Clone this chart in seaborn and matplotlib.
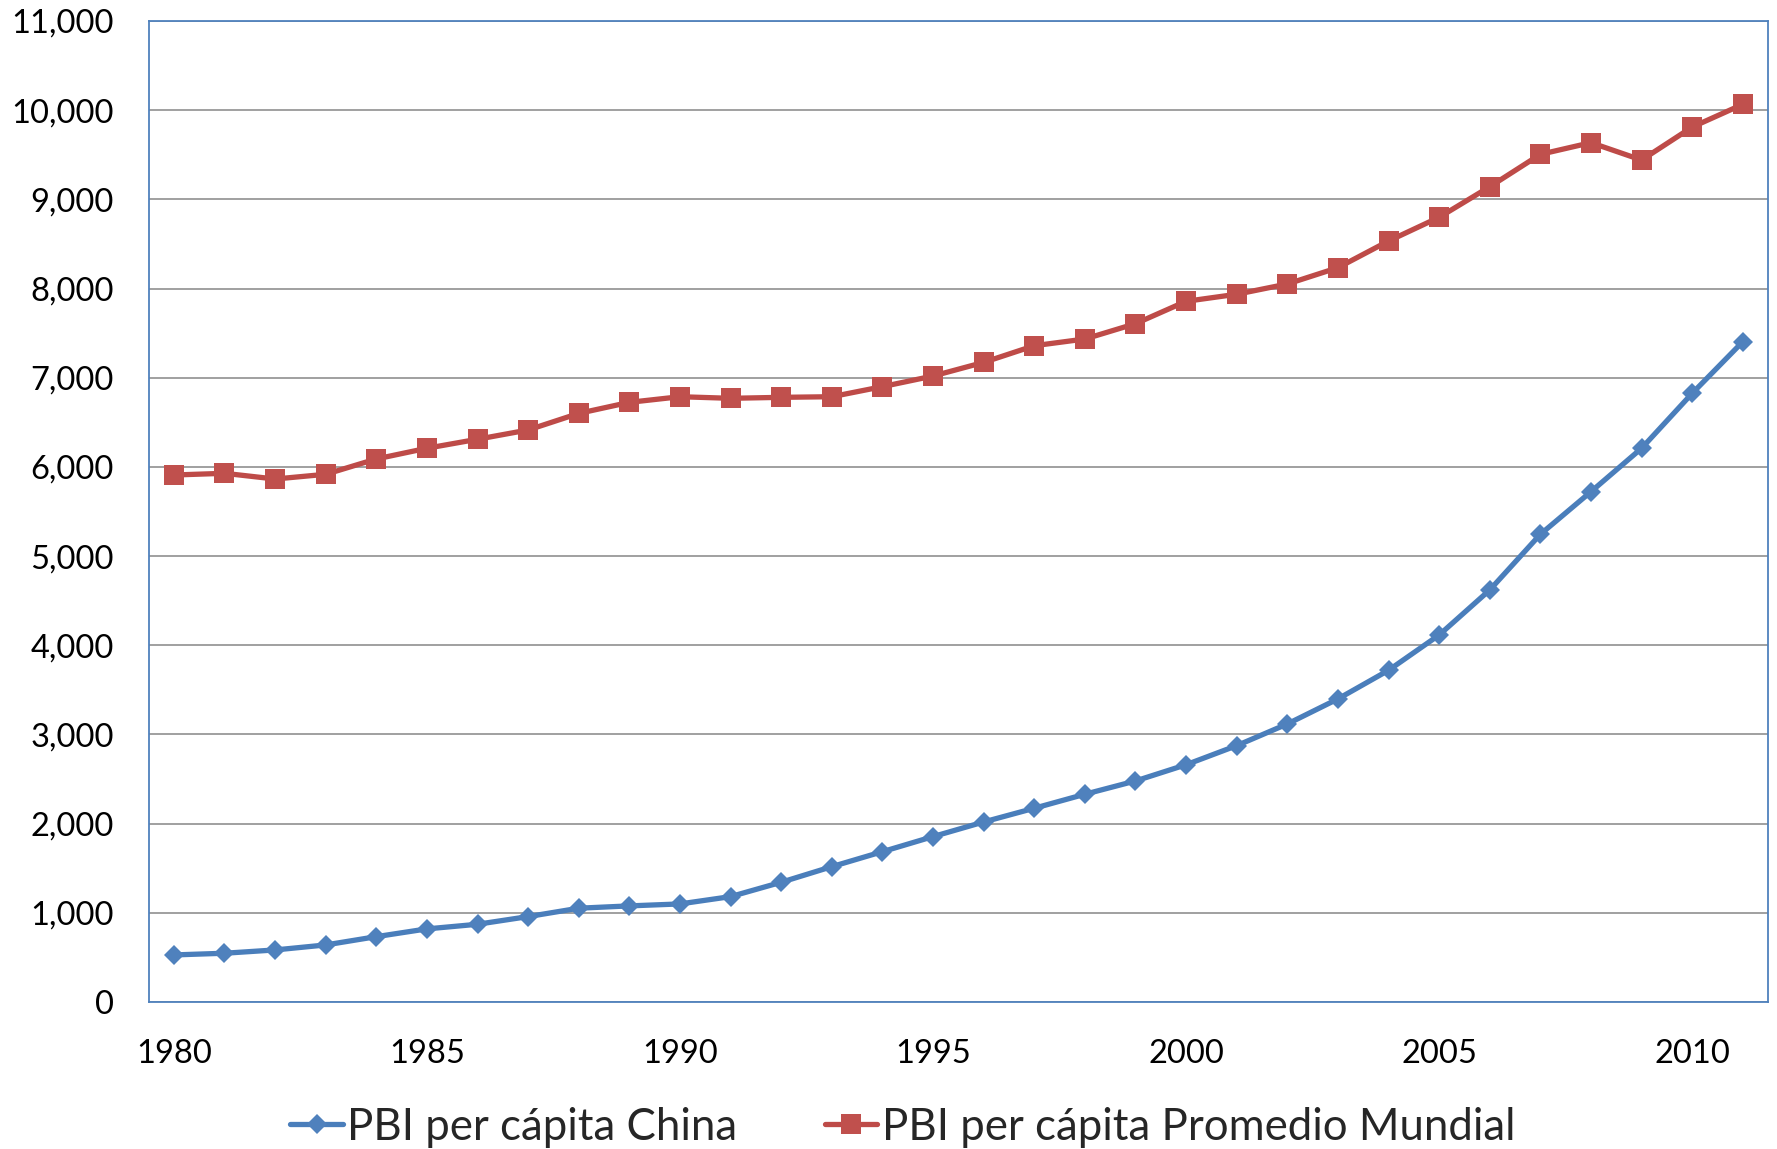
import matplotlib
matplotlib.use("Agg")
import matplotlib.pyplot as plt
import matplotlib.ticker as mticker
import seaborn as sns
import pandas as pd

years = list(range(1980, 2012))
china = [527, 546, 583, 639, 732, 819, 871, 957, 1051, 1077, 1099, 1181, 1342, 1517, 1685, 1854,
         2018, 2172, 2329, 2478, 2660, 2874, 3117, 3398, 3719, 4115, 4620, 5244, 5722, 6209, 6825, 7404]
mundial = [5909, 5928, 5864, 5917, 6089, 6209, 6310, 6414, 6600, 6724, 6787, 6769, 6780, 6787, 6900, 7019,
           7172, 7359, 7434, 7606, 7857, 7936, 8051, 8234, 8533, 8799, 9142, 9505, 9636, 9441, 9811, 10066]
label_china = 'PBI per cápita China'
label_mundial = 'PBI per cápita Promedio Mundial'
year_ticks = [1980, 1985, 1990, 1995, 2000, 2005, 2010]

sns.set_style('white')
plt.rcParams['font.family'] = ['Lato', 'DejaVu Sans']

df = pd.DataFrame({'year': years, 'china': china, 'mundial': mundial})
# Excel category axis: points sit in the middle of each year slot
df['pos'] = df['year'] + 0.5

fig = plt.figure(figsize=(17.77, 11.49), dpi=100)
ax = fig.add_axes([0.0836, 0.128, 0.9114, 0.8537])

blue = '#4A7EBB'
red = '#BE4B48'
axis_blue = '#4F81BD'

sns.lineplot(data=df, x='pos', y='china', ax=ax, color=blue, linewidth=3.8,
             marker='D', markersize=10.5, markeredgewidth=0, markerfacecolor='#4F81BD',
             label=label_china)
sns.lineplot(data=df, x='pos', y='mundial', ax=ax, color=red, linewidth=3.8,
             marker='s', markersize=14.5, markeredgewidth=0, markerfacecolor='#C0504D',
             label=label_mundial)

ax.set_xlim(1980, 2012)
ax.set_ylim(0, 11000)
ax.set_yticks(range(0, 11001, 1000))
ax.yaxis.set_major_formatter(mticker.FuncFormatter(lambda v, p: f'{v:,.0f}'))

# tick marks on the year boundaries, labels centred on the year slot
ax.set_xticks(year_ticks)
ax.set_xticklabels([])
ax.set_xticks([y + 0.5 for y in year_ticks], minor=True)
ax.set_xticklabels([str(y) for y in year_ticks], minor=True)

ax.grid(axis='y', color='#868686', linewidth=1.1)
ax.set_axisbelow(True)
ax.set_xlabel('')
ax.set_ylabel('')

for side in ['left', 'right', 'top', 'bottom']:
    ax.spines[side].set_color(axis_blue)
    ax.spines[side].set_linewidth(1.3)

ax.tick_params(axis='y', length=0, pad=25, labelsize=23.5, labelcolor='black')
ax.tick_params(axis='x', which='major', direction='inout', length=17, width=1.1, color=axis_blue)
ax.tick_params(axis='x', which='minor', length=0, pad=27, labelsize=23.5, labelcolor='black')

ax.legend(loc='center', bbox_to_anchor=(0.508, 0.019), bbox_transform=fig.transFigure,
          ncol=2, frameon=False, fontsize=31.5, handlelength=1.2, handletextpad=0.1,
          columnspacing=2.0, borderaxespad=0.0)

fig.savefig('out.png', dpi=100, facecolor='white')
plt.close(fig)
